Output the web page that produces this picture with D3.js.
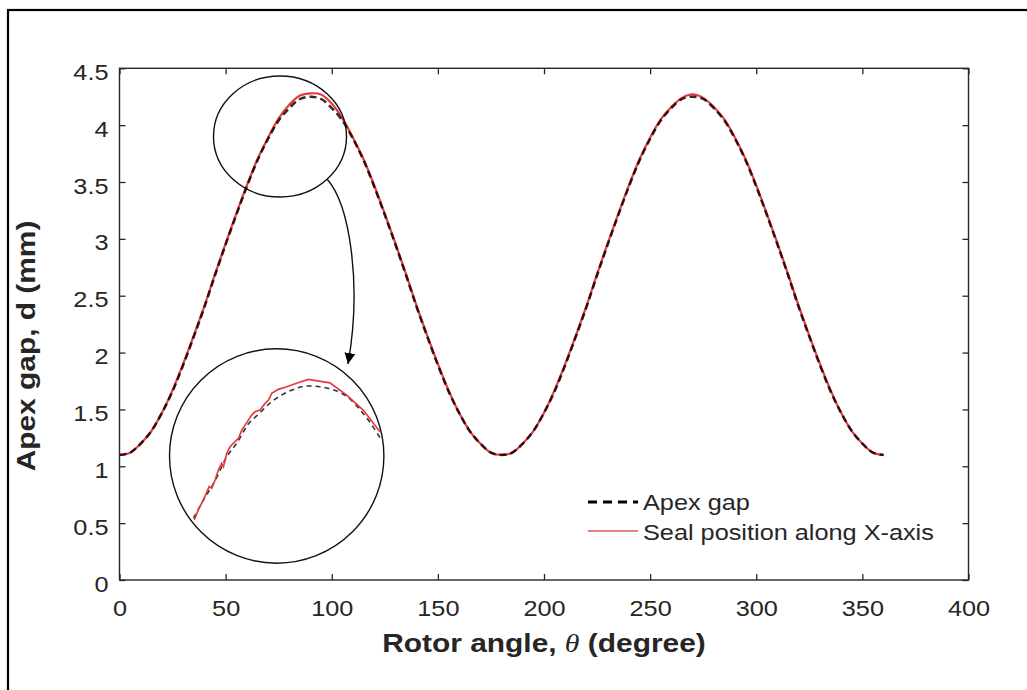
<!DOCTYPE html>
<html>
<head>
<meta charset="utf-8">
<script src="https://cdn.jsdelivr.net/npm/d3@7"></script>
<style>
  html, body { margin: 0; padding: 0; background: #fff; }
  svg { display: block; }
  text { font-family: "Liberation Sans", Arial, sans-serif; fill: #262626; }
</style>
</head>
<body>
<svg id="chart" width="1027" height="690"></svg>
<script>
// Rotor angle samples (degrees)
const angles = [0,5,10,15,20,25,30,35,40,45,50,55,60,65,70,75,80,85,90,95,100,105,110,115,120,125,130,135,140,145,150,155,160,165,170,175,180,
  185,190,195,200,205,210,215,220,225,230,235,240,245,250,255,260,265,270,275,280,285,290,295,300,305,310,315,320,325,330,335,340,345,350,355,360];

// Apex gap d (mm)
const apexGap = [1.10,1.12,1.20,1.31,1.47,1.66,1.89,2.14,2.40,2.68,2.95,3.21,3.46,3.69,3.88,4.04,4.15,4.23,4.25,4.23,4.15,4.04,3.88,3.69,3.46,3.21,2.95,2.68,2.40,2.14,1.89,1.66,1.47,1.31,1.20,1.12,1.10,
  1.12,1.20,1.31,1.47,1.66,1.89,2.14,2.40,2.68,2.95,3.21,3.46,3.69,3.88,4.04,4.15,4.23,4.25,4.23,4.15,4.04,3.88,3.69,3.46,3.21,2.95,2.68,2.40,2.14,1.89,1.66,1.47,1.31,1.20,1.12,1.10];

// Seal position along X-axis (mm)
const sealPosition = [1.10,1.12,1.20,1.31,1.47,1.67,1.90,2.15,2.41,2.69,2.96,3.22,3.47,3.70,3.89,4.06,4.18,4.26,4.28,4.27,4.19,4.06,3.89,3.70,3.47,3.22,2.96,2.69,2.41,2.15,1.90,1.67,1.47,1.31,1.20,1.12,1.10,
  1.12,1.20,1.31,1.47,1.67,1.90,2.15,2.41,2.69,2.96,3.22,3.47,3.70,3.89,4.05,4.16,4.24,4.27,4.24,4.16,4.05,3.89,3.70,3.47,3.22,2.96,2.69,2.41,2.15,1.90,1.67,1.47,1.31,1.20,1.12,1.10];

// Magnified view near the first peak
const zoomApexAngle = [59,62,65,68,71,74,77,80,83,86,89,92,95,98,101,104,107,110];
const zoomApexGap   = [3.40,3.53,3.65,3.80,3.90,4.02,4.09,4.16,4.21,4.245,4.268,4.27,4.26,4.24,4.20,4.13,4.04,3.93];
const zoomSealAngle = [59.2,60.3,61.2,62.1,63.3,64.0,64.9,65.8,66.7,67.2,68.1,69.0,70.3,71.3,72.2,73.1,74.0,74.9,75.8,77.2,78.6,79.5,80.4,82.2,84.5,87.2,90.4,96.3,100.9,105.4,110.0];
const zoomSeal      = [3.387,3.453,3.497,3.541,3.607,3.596,3.651,3.717,3.761,3.739,3.827,3.870,3.903,3.926,3.980,4.013,4.046,4.079,4.101,4.112,4.157,4.178,4.223,4.249,4.266,4.289,4.315,4.292,4.211,4.112,3.969];

// Axis ticks
const xTicks = [0,50,100,150,200,250,300,350,400];
const yTicks = [0,0.5,1,1.5,2,2.5,3,3.5,4,4.5];

const svg = d3.select("#chart");
const STRETCH = 1.15;
const axisColor = "#262626";

// Outer frame
svg.append("rect")
  .attr("x", 8).attr("y", 10).attr("width", 1040).attr("height", 700)
  .attr("fill", "none").attr("stroke", "#000").attr("stroke-width", 2.2);

const x = d3.scaleLinear().domain([0, 400]).range([119.5, 968.5]);
const y = d3.scaleLinear().domain([0, 4.5]).range([580, 68.3]);

// Plot box
svg.append("rect")
  .attr("x", x(0)).attr("y", y(4.5))
  .attr("width", x(400) - x(0)).attr("height", y(0) - y(4.5))
  .attr("fill", "none").attr("stroke", axisColor).attr("stroke-width", 1.4);

// Inward ticks on all four sides
function styleAxis(g) {
  g.select(".domain").remove();
  g.selectAll(".tick line").attr("stroke", axisColor).attr("stroke-width", 1.3);
}
const axisB = svg.append("g").attr("transform", `translate(0,${y(0)})`)
  .call(d3.axisBottom(x).tickValues(xTicks).tickSizeInner(-6).tickSizeOuter(0).tickFormat(d3.format("d")));
styleAxis(axisB);
axisB.selectAll(".tick text")
  .attr("y", null).attr("dy", null)
  .attr("transform", `translate(0,36) scale(${STRETCH},1)`)
  .attr("font-size", 22).attr("fill", axisColor).style("font-family", "Liberation Sans, Arial, sans-serif");

const axisT = svg.append("g").attr("transform", `translate(0,${y(4.5)})`)
  .call(d3.axisTop(x).tickValues(xTicks).tickSizeInner(-6).tickSizeOuter(0).tickFormat(""));
styleAxis(axisT);

const axisL = svg.append("g").attr("transform", `translate(${x(0)},0)`)
  .call(d3.axisLeft(y).tickValues(yTicks).tickSizeInner(-6).tickSizeOuter(0).tickFormat(d => String(d)));
styleAxis(axisL);
axisL.selectAll(".tick text")
  .attr("x", null).attr("dy", null)
  .attr("transform", `translate(-11,11) scale(${STRETCH},1)`)
  .attr("text-anchor", "end")
  .attr("font-size", 22).attr("fill", axisColor).style("font-family", "Liberation Sans, Arial, sans-serif");

const axisR = svg.append("g").attr("transform", `translate(${x(400)},0)`)
  .call(d3.axisRight(y).tickValues(yTicks).tickSizeInner(-6).tickSizeOuter(0).tickFormat(""));
styleAxis(axisR);

// Curves: seal position underneath, apex gap dashes on top
const mainLine = (xs, ys) => d3.line()
  .x((d, i) => x(xs[i])).y((d, i) => y(ys[i]))
  .curve(d3.curveCatmullRom.alpha(0.5))(ys);

svg.append("path")
  .attr("d", mainLine(angles, sealPosition))
  .attr("fill", "none").attr("stroke", "#e23b40").attr("stroke-width", 2.2);
svg.append("path")
  .attr("d", mainLine(angles, apexGap))
  .attr("fill", "none").attr("stroke", "#1a0000").attr("stroke-width", 2.5)
  .attr("stroke-opacity", 0.85)
  .attr("stroke-dasharray", "7,4");

// Highlight ellipse around the first peak
svg.append("ellipse")
  .attr("cx", 280).attr("cy", 136.5).attr("rx", 66.5).attr("ry", 60.5)
  .attr("fill", "none").attr("stroke", "#111").attr("stroke-width", 1.4);

// Arrow to the magnified view
svg.append("defs").append("marker")
  .attr("id", "arrowhead").attr("viewBox", "0 0 10 10")
  .attr("refX", 10).attr("refY", 5)
  .attr("markerWidth", 11).attr("markerHeight", 11)
  .attr("markerUnits", "userSpaceOnUse")
  .attr("orient", "auto")
  .append("path").attr("d", "M0,0 L10,5 L0,10 Z").attr("fill", "#000");
svg.append("path")
  .attr("d", "M327,179 C350,205 362,285 348,364")
  .attr("fill", "none").attr("stroke", "#111").attr("stroke-width", 1.4)
  .attr("marker-end", "url(#arrowhead)");

// Magnified view
const zx = d3.scaleLinear().domain([59, 110]).range([193.5, 380]);
const zy = d3.scaleLinear().domain([3.4, 4.3]).range([518, 381.6]);
svg.append("circle")
  .attr("cx", 276.7).attr("cy", 456).attr("r", 107.2)
  .attr("fill", "none").attr("stroke", "#111").attr("stroke-width", 1.4);

const zoomLine = (xs, ys) => d3.line()
  .x((d, i) => zx(xs[i])).y((d, i) => zy(ys[i]))(ys);
svg.append("path")
  .attr("d", d3.line().x((d, i) => zx(zoomApexAngle[i])).y(d => zy(d)).curve(d3.curveCatmullRom)(zoomApexGap))
  .attr("fill", "none").attr("stroke", "#333").attr("stroke-width", 1.6)
  .attr("stroke-dasharray", "5,4");
svg.append("path")
  .attr("d", zoomLine(zoomSealAngle, zoomSeal))
  .attr("fill", "none").attr("stroke", "#e23b40").attr("stroke-width", 1.7);

// Legend
const legend = svg.append("g");
legend.append("line")
  .attr("x1", 588).attr("x2", 638).attr("y1", 502).attr("y2", 502)
  .attr("stroke", "#000").attr("stroke-width", 3).attr("stroke-dasharray", "9,6");
legend.append("text")
  .attr("transform", `translate(643,510) scale(${STRETCH},1)`)
  .attr("font-size", 22).text("Apex gap");
legend.append("line")
  .attr("x1", 588).attr("x2", 638).attr("y1", 531).attr("y2", 531)
  .attr("stroke", "#d9585c").attr("stroke-width", 1.6);
legend.append("text")
  .attr("transform", `translate(643,540) scale(${STRETCH},1)`)
  .attr("font-size", 22).text("Seal position along X-axis");

// Axis titles
const xt = svg.append("text")
  .attr("transform", `translate(${(x(0) + x(400)) / 2},652) scale(${STRETCH},1)`)
  .attr("text-anchor", "middle").attr("font-size", 26).attr("font-weight", "bold");
xt.append("tspan").text("Rotor angle, ");
xt.append("tspan").attr("font-family", "Liberation Serif, serif").attr("font-style", "italic")
  .attr("font-weight", "normal").text("θ");
xt.append("tspan").text(" (degree)");

svg.append("text")
  .attr("transform", `translate(35,346) rotate(-90) scale(${STRETCH},1)`)
  .attr("text-anchor", "middle").attr("font-size", 26).attr("font-weight", "bold")
  .text("Apex gap, d (mm)");
</script>
</body>
</html>
